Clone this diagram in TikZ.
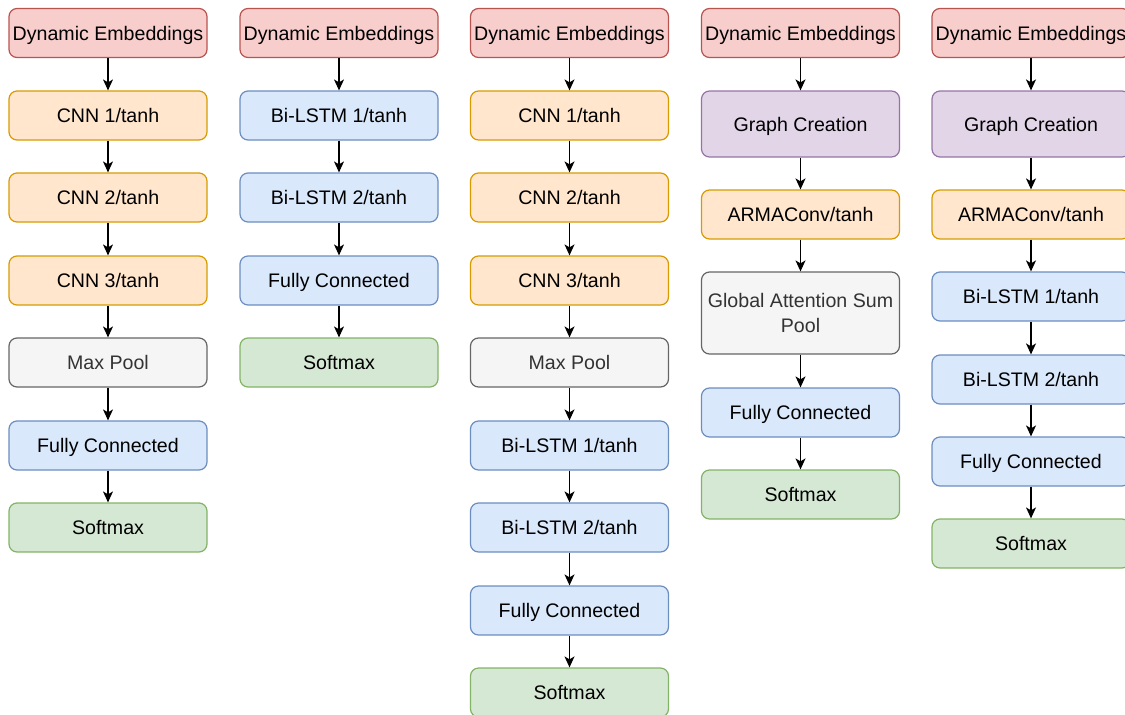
\documentclass[tikz,border=0pt]{standalone}
\usepackage{fontspec}
\setmainfont{Liberation Sans}
\usetikzlibrary{arrows.meta}
\definecolor{redF}{HTML}{F8CECC}\definecolor{redD}{HTML}{B85450}
\definecolor{orF}{HTML}{FFE6CC}\definecolor{orD}{HTML}{D79B00}
\definecolor{blF}{HTML}{DAE8FC}\definecolor{blD}{HTML}{6C8EBF}
\definecolor{grF}{HTML}{D5E8D4}\definecolor{grD}{HTML}{82B366}
\definecolor{gyF}{HTML}{F5F5F5}\definecolor{gyD}{HTML}{666666}\definecolor{gyT}{HTML}{333333}
\definecolor{puF}{HTML}{E1D5E7}\definecolor{puD}{HTML}{9673A6}
\tikzset{
  box/.style={draw, line width=1.2pt, rounded corners=8pt, minimum width=198pt, minimum height=49pt,
    inner sep=0pt, font=\fontsize{19.6}{24.5}\selectfont, text height=14.2pt, text depth=0pt},
  redbox/.style={box, fill=redF, draw=redD},
  orbox/.style={box, fill=orF, draw=orD},
  blbox/.style={box, fill=blF, draw=blD},
  grbox/.style={box, fill=grF, draw=grD},
  gybox/.style={box, fill=gyF, draw=gyD, text=gyT},
  pubox/.style={box, fill=puF, draw=puD, minimum height=66pt},
  arr/.style={line width=1.3pt, -{Stealth[length=11pt,width=10pt,inset=3pt]}}
}
\begin{document}
\begin{tikzpicture}[x=1pt,y=-1pt]
\useasboundingbox (0,0) rectangle (1125,715);
\clip (0,0) rectangle (1125,715);
% column 1
\node[redbox] (a0) at (108,33) {Dynamic Embeddings};
\node[orbox] (a1) at (108,115.5) {CNN 1/tanh};
\node[orbox] (a2) at (108,197.5) {CNN 2/tanh};
\node[orbox] (a3) at (108,280.5) {CNN 3/tanh};
\node[gybox] (a4) at (108,362.5) {Max Pool};
\node[blbox] (a5) at (108,445.5) {Fully Connected};
\node[grbox] (a6) at (108,527.5) {Softmax};
\foreach \i/\j in {a0/a1,a1/a2,a2/a3,a3/a4,a4/a5,a5/a6} \draw[arr] (\i) -- (\j);
% column 2
\node[redbox] (b0) at (339,33) {Dynamic Embeddings};
\node[blbox] (b1) at (339,115.5) {Bi-LSTM 1/tanh};
\node[blbox] (b2) at (339,197.5) {Bi-LSTM 2/tanh};
\node[blbox] (b3) at (339,280.5) {Fully Connected};
\node[grbox] (b4) at (339,362.5) {Softmax};
\foreach \i/\j in {b0/b1,b1/b2,b2/b3,b3/b4} \draw[arr] (\i) -- (\j);
% column 3
\node[redbox] (c0) at (569.5,33) {Dynamic Embeddings};
\node[orbox] (c1) at (569.5,115.5) {CNN 1/tanh};
\node[orbox] (c2) at (569.5,197.5) {CNN 2/tanh};
\node[orbox] (c3) at (569.5,280.5) {CNN 3/tanh};
\node[gybox] (c4) at (569.5,362.5) {Max Pool};
\node[blbox] (c5) at (569.5,445.5) {Bi-LSTM 1/tanh};
\node[blbox] (c6) at (569.5,527.5) {Bi-LSTM 2/tanh};
\node[blbox] (c7) at (569.5,610.5) {Fully Connected};
\node[grbox] (c8) at (569.5,692.5) {Softmax};
\foreach \i/\j in {c0/c1,c1/c2,c2/c3,c3/c4,c4/c5,c5/c6,c6/c7,c7/c8} \draw[arr] (\i) -- (\j);
% column 4
\node[redbox] (d0) at (800.5,33) {Dynamic Embeddings};
\node[pubox] (d1) at (800.5,124) {Graph Creation};
\node[orbox] (d2) at (800.5,214.5) {ARMAConv/tanh};
\node[gybox, minimum height=82pt, align=center, text height=, text depth=] (d3) at (800.5,313) {Global Attention Sum\\Pool};
\node[blbox] (d4) at (800.5,412.5) {Fully Connected};
\node[grbox] (d5) at (800.5,494.5) {Softmax};
\foreach \i/\j in {d0/d1,d1/d2,d2/d3,d3/d4,d4/d5} \draw[arr] (\i) -- (\j);
% column 5
\node[redbox] (e0) at (1031,33) {Dynamic Embeddings};
\node[pubox] (e1) at (1031,124) {Graph Creation};
\node[orbox] (e2) at (1031,214.5) {ARMAConv/tanh};
\node[blbox] (e3) at (1031,296.5) {Bi-LSTM 1/tanh};
\node[blbox] (e4) at (1031,379.5) {Bi-LSTM 2/tanh};
\node[blbox] (e5) at (1031,461.5) {Fully Connected};
\node[grbox] (e6) at (1031,543.5) {Softmax};
\foreach \i/\j in {e0/e1,e1/e2,e2/e3,e3/e4,e4/e5,e5/e6} \draw[arr] (\i) -- (\j);
\end{tikzpicture}
\end{document}
